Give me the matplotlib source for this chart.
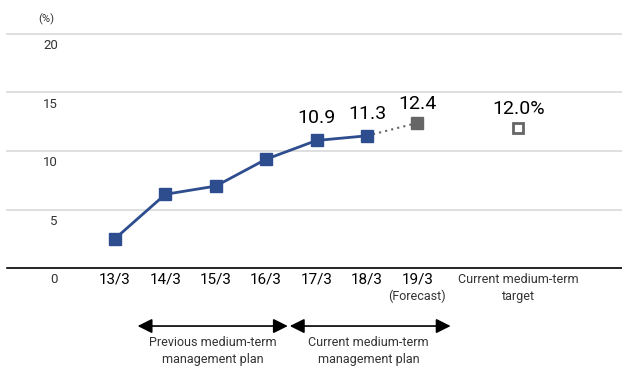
import numpy as np
import matplotlib.pyplot as plt

plt.rcParams['font.family'] = ['Roboto', 'DejaVu Sans']

years = ['13/3', '14/3', '15/3', '16/3', '17/3', '18/3', '19/3']
roe = [2.5, 6.3, 7.0, 9.3, 10.9, 11.3, 12.4]
target = 12.0
yticks = [0, 5, 10, 15, 20]
labelled = {4: '10.9', 5: '11.3', 6: '12.4'}

navy = '#2e4d8f'
gray = '#666666'

fig = plt.figure(figsize=[6.22, 3.69], dpi=100)
ax = fig.add_axes([0, 101 / 369, 1, 234 / 369])
ax.set_xlim(-2.28, 10.06)
ax.set_ylim(0, 20)
ax.axis('off')

x = np.arange(len(years))
xt = 8

# grid lines
for v in yticks[1:]:
    ax.plot([-2.14, 10.06], [v, v], color='#d9d9d9', lw=1.2, clip_on=False, zorder=1)
    ax.text(-1.13, v - 1.0, str(v), ha='right', va='center', fontsize=9.5, color='#333333')
ax.plot([-2.14, 10.06], [0, 0], color='black', lw=1.2, clip_on=False, zorder=1)
ax.text(-1.13, -1.0, '0', ha='right', va='center', fontsize=9.5, color='#333333')
ax.text(-1.37, 21.3, '(%)', ha='center', va='center', fontsize=8, color='#333333', clip_on=False)

# actual
ax.plot(x[:6], roe[:6], color=navy, lw=2, marker='s', ms=9, zorder=3)
ax.plot(x[5:7], roe[5:7], color=gray, lw=1.5, ls=(0, (1, 2)), zorder=2)
ax.plot(x[6], roe[6], marker='s', ms=9, color=gray, ls='none', zorder=3)
ax.plot(xt, target, marker='s', ms=7, mfc='white', mec=gray, mew=2, ls='none', zorder=3)

for i, s in labelled.items():
    yy = roe[i] + 1.9 if i < 6 else roe[i] + 1.6
    ax.text(x[i], yy, s, ha='center', va='center', fontsize=14, color='black')
ax.text(xt, target + 1.6, '12.0%', ha='center', va='center', fontsize=14, color='black')

# category labels
for i, s in enumerate(years):
    ax.text(x[i], -1.0, s, ha='center', va='center', fontsize=11, color='black', clip_on=False)
ax.text(x[6], -2.4, '(Forecast)', ha='center', va='center', fontsize=9, color='#333333', clip_on=False)
ax.text(xt, -1.0, 'Current medium-term', ha='center', va='center', fontsize=9, color='#333333', clip_on=False)
ax.text(xt, -2.4, 'target', ha='center', va='center', fontsize=9, color='#333333', clip_on=False)

# plan arrows
ya = -4.96
for x0, x1 in [(0.45, 3.43), (3.47, 6.66)]:
    ax.annotate('', xy=(x0, ya), xytext=(x1, ya),
                arrowprops=dict(arrowstyle='<|-|>', color='black', lw=1.2,
                                mutation_scale=22, shrinkA=0, shrinkB=0),
                annotation_clip=False)
ax.text(1.94, -6.4, 'Previous medium-term', ha='center', va='center', fontsize=9, color='#333333', clip_on=False)
ax.text(1.94, -7.85, 'management plan', ha='center', va='center', fontsize=9, color='#333333', clip_on=False)
ax.text(5.03, -6.4, 'Current medium-term', ha='center', va='center', fontsize=9, color='#333333', clip_on=False)
ax.text(5.03, -7.85, 'management plan', ha='center', va='center', fontsize=9, color='#333333', clip_on=False)

fig.savefig('out.png', dpi=100)
